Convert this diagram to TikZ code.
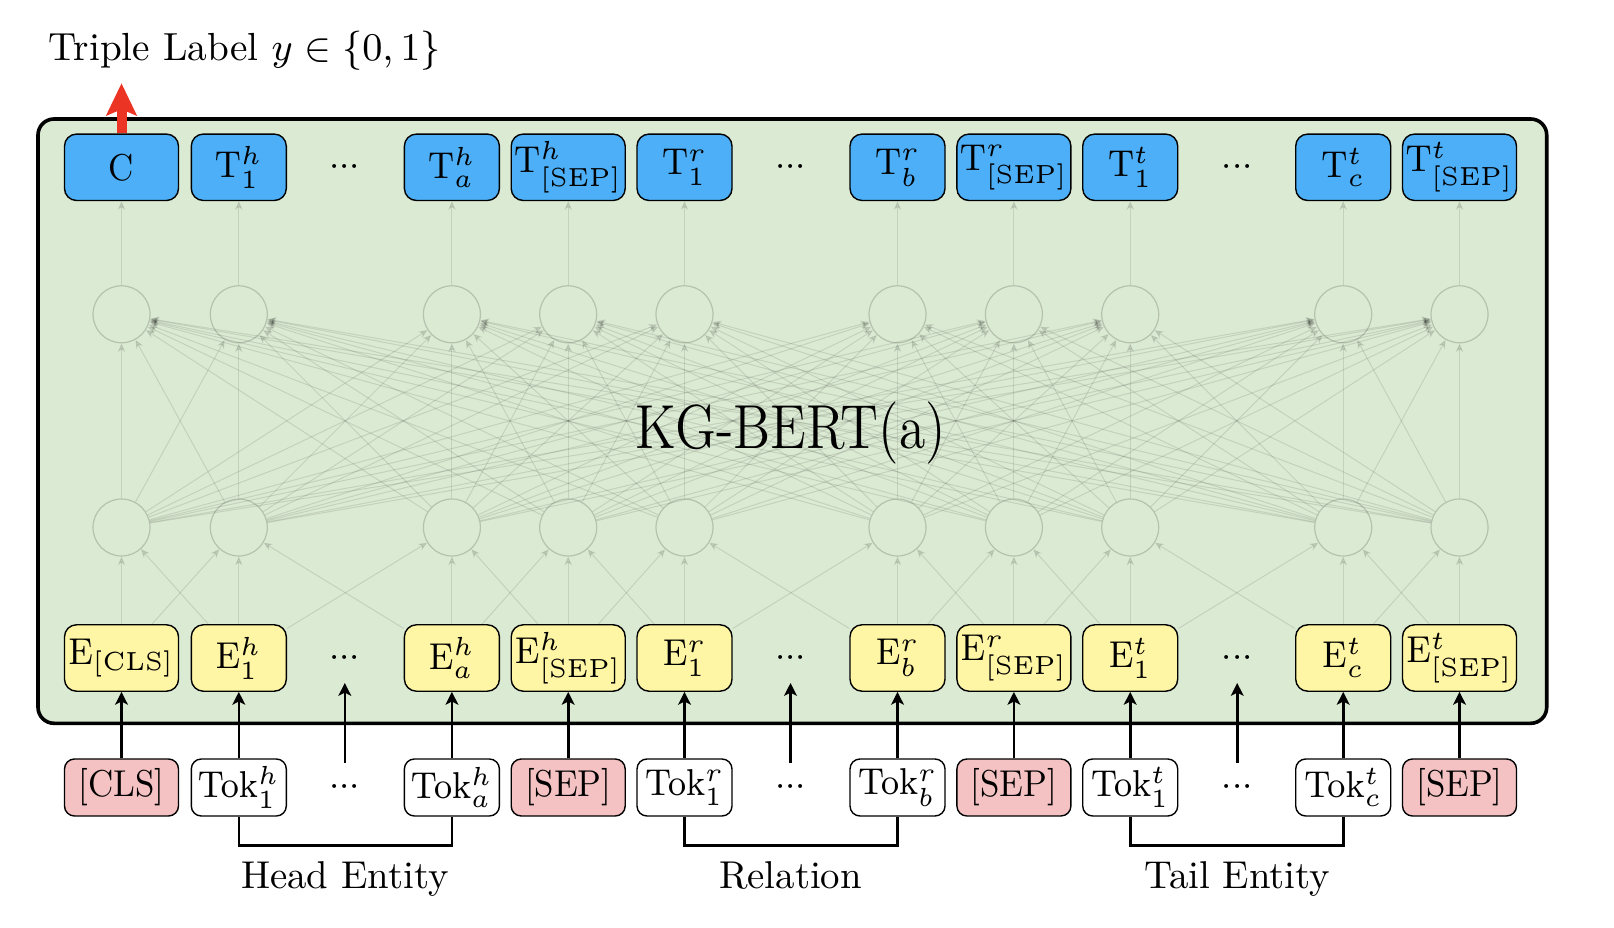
\RequirePackage{fix-cm}
\documentclass[tikz,border=0pt]{standalone}
\usepackage{graphicx}
\usetikzlibrary{arrows.meta}
\definecolor{bgreen}{RGB}{219,234,211}
\definecolor{tblue}{RGB}{76,175,247}
\definecolor{eyellow}{RGB}{255,246,165}
\definecolor{spink}{RGB}{244,194,194}
\definecolor{rarrow}{RGB}{236,52,36}
\newcommand{\bxt}[1]{\scalebox{1}[1.1]{#1}}
\newcommand{\tdots}{${\cdot}{\cdot}{\cdot}$}
\begin{document}
\begin{tikzpicture}[x=0.25pt,y=-0.25pt,
  box/.style={draw=black, line width=0.35pt, rounded corners=3pt, minimum height=16.6pt, inner sep=0pt, font=\fontsize{8.5}{9}\selectfont},
  wbox/.style={minimum width=28.5pt},
  nbox/.style={minimum width=23.75pt},
  tbox/.style={box, fill=tblue},
  ebox/.style={box, fill=eyellow},
  kbox/.style={box, fill=white, minimum height=14.25pt, rounded corners=2.5pt},
  sbox/.style={kbox, fill=spink},
  dotsnode/.style={inner sep=0pt, font=\fontsize{9}{10}\selectfont},
  neuron/.style={circle, draw=black, draw opacity=0.17, line width=0.3pt, minimum size=14.25pt, inner sep=0pt},
  faint/.style={draw=black, opacity=0.1, line width=0.25pt, -{Stealth[length=2.2pt,width=1.9pt]}},
  inarrow/.style={line width=0.65pt, -{Stealth[length=3.2pt,width=3.2pt,inset=0.8pt]}},
  bracket/.style={line width=0.65pt},
  redarrow/.style={draw=rarrow, line width=2.5pt, -{Stealth[length=8pt,width=7.5pt,inset=1.5pt]}},
  lbl/.style={inner sep=0pt, anchor=base, font=\fontsize{9.7}{11}\selectfont}
]
\useasboundingbox (0,0) rectangle (1614,928);

% main block
\draw[line width=0.9pt, fill=bgreen, rounded corners=4pt] (38,119) rectangle (1546.7,723.3);

% title
\node[inner sep=0pt, anchor=base west, font=\fontsize{9.8}{11}\selectfont] (title) at (48,60.7) {Triple Label $y \in \{0,1\}$};

% model name
\node[inner sep=0pt, anchor=base] (kg) at (790.8,448.3) {\scalebox{1}[1.16]{\fontsize{13.4}{15}\selectfont KG-BERT(a)}};

% output row
\node[tbox,wbox] (t1)  at (121.5,167.3)  {\bxt{C}};
\node[tbox,nbox] (t2)  at (238.8,167.3)  {\bxt{$\mathrm{T}^h_1$}};
\node[dotsnode]  (td1) at (344.8,167.3)  {\tdots};
\node[tbox,nbox] (t3)  at (451.9,167.3)  {\bxt{$\mathrm{T}^h_a$}};
\node[tbox,wbox] (t4)  at (568.2,167.3)  {\bxt{$\mathrm{T}^h_{\mathrm{[SEP]}}$}};
\node[tbox,nbox] (t5)  at (684.5,167.3)  {\bxt{$\mathrm{T}^r_1$}};
\node[dotsnode]  (td2) at (790.5,167.3)  {\tdots};
\node[tbox,nbox] (t6)  at (897.5,167.3)  {\bxt{$\mathrm{T}^r_b$}};
\node[tbox,wbox] (t7)  at (1013.9,167.3) {\bxt{$\mathrm{T}^r_{\mathrm{[SEP]}}$}};
\node[tbox,nbox] (t8)  at (1130.2,167.3) {\bxt{$\mathrm{T}^t_1$}};
\node[dotsnode]  (td3) at (1237.2,167.3) {\tdots};
\node[tbox,nbox] (t9)  at (1343.2,167.3) {\bxt{$\mathrm{T}^t_c$}};
\node[tbox,wbox] (t10) at (1459.5,167.3) {\bxt{$\mathrm{T}^t_{\mathrm{[SEP]}}$}};

% hidden layers
\foreach \i/\x in {1/121.5,2/238.8,3/451.9,4/568.2,5/684.5,6/897.5,7/1013.9,8/1130.2,9/1343.2,10/1459.5}{
  \node[neuron] (u\i) at (\x,314.3) {};
  \node[neuron] (l\i) at (\x,527.5) {};
}

% embedding row
\node[ebox,wbox] (e1)  at (121.5,658)  {\bxt{$\mathrm{E}_{\mathrm{[CLS]}}$}};
\node[ebox,nbox] (e2)  at (238.8,658)  {\bxt{$\mathrm{E}^h_1$}};
\node[dotsnode]  (ed1) at (344.8,658)  {\tdots};
\node[ebox,nbox] (e3)  at (451.9,658)  {\bxt{$\mathrm{E}^h_a$}};
\node[ebox,wbox] (e4)  at (568.2,658)  {\bxt{$\mathrm{E}^h_{\mathrm{[SEP]}}$}};
\node[ebox,nbox] (e5)  at (684.5,658)  {\bxt{$\mathrm{E}^r_1$}};
\node[dotsnode]  (ed2) at (790.5,658)  {\tdots};
\node[ebox,nbox] (e6)  at (897.5,658)  {\bxt{$\mathrm{E}^r_b$}};
\node[ebox,wbox] (e7)  at (1013.9,658) {\bxt{$\mathrm{E}^r_{\mathrm{[SEP]}}$}};
\node[ebox,nbox] (e8)  at (1130.2,658) {\bxt{$\mathrm{E}^t_1$}};
\node[dotsnode]  (ed3) at (1237.2,658) {\tdots};
\node[ebox,nbox] (e9)  at (1343.2,658) {\bxt{$\mathrm{E}^t_c$}};
\node[ebox,wbox] (e10) at (1459.5,658) {\bxt{$\mathrm{E}^t_{\mathrm{[SEP]}}$}};

% token row
\node[sbox,wbox] (k1)  at (121.5,787.5)  {\bxt{[CLS]}};
\node[kbox,nbox] (k2)  at (238.8,787.5)  {\bxt{$\mathrm{Tok}^h_1$}};
\node[dotsnode]  (kd1) at (344.8,787.5)  {\tdots};
\node[kbox,nbox] (k3)  at (451.9,787.5)  {\bxt{$\mathrm{Tok}^h_a$}};
\node[sbox,wbox] (k4)  at (568.2,787.5)  {\bxt{[SEP]}};
\node[kbox,nbox] (k5)  at (684.5,787.5)  {\bxt{$\mathrm{Tok}^r_1$}};
\node[dotsnode]  (kd2) at (790.5,787.5)  {\tdots};
\node[kbox,nbox] (k6)  at (897.5,787.5)  {\bxt{$\mathrm{Tok}^r_b$}};
\node[sbox,wbox] (k7)  at (1013.9,787.5) {\bxt{[SEP]}};
\node[kbox,nbox] (k8)  at (1130.2,787.5) {\bxt{$\mathrm{Tok}^t_1$}};
\node[dotsnode]  (kd3) at (1237.2,787.5) {\tdots};
\node[kbox,nbox] (k9)  at (1343.2,787.5) {\bxt{$\mathrm{Tok}^t_c$}};
\node[sbox,wbox] (k10) at (1459.5,787.5) {\bxt{[SEP]}};

% faint network connections
\foreach \i in {1,...,10}{
  \draw[faint] (e\i) -- (l\i);
  \draw[faint] (u\i) -- (t\i);
  \foreach \j in {1,...,10}{
    \draw[faint] (l\i) -- (u\j);
  }
}
\foreach \i [evaluate=\i as \n using int(\i+1)] in {1,...,9}{
  \draw[faint] (e\i) -- (l\n);
  \draw[faint] (e\n) -- (l\i);
}

% input arrows
\foreach \i in {1,...,10}{
  \draw[inarrow] (k\i) -- (e\i);
}
\foreach \d/\x in {1/344.8,2/790.5,3/1237.2}{
  \coordinate (da\d) at (\x,763);
  \coordinate (db\d) at (\x,683);
  \draw[inarrow] (da\d) -- (db\d);
}

% brackets
\coordinate (hb) at (0,845.7);
\draw[bracket] (k2.south) -- (k2.south |- hb) -- (k3.south |- hb) -- (k3.south);
\draw[bracket] (k5.south) -- (k5.south |- hb) -- (k6.south |- hb) -- (k6.south);
\draw[bracket] (k8.south) -- (k8.south |- hb) -- (k9.south |- hb) -- (k9.south);

\node[lbl] (head) at (344.8,888) {Head Entity};
\node[lbl] (rel)  at (790.5,888) {Relation};
\node[lbl] (tail) at (1237.2,888) {Tail Entity};

% output arrow
\coordinate (ytip) at (121.5,83.3);
\draw[redarrow] (t1.north) -- (ytip);
\end{tikzpicture}
\end{document}
